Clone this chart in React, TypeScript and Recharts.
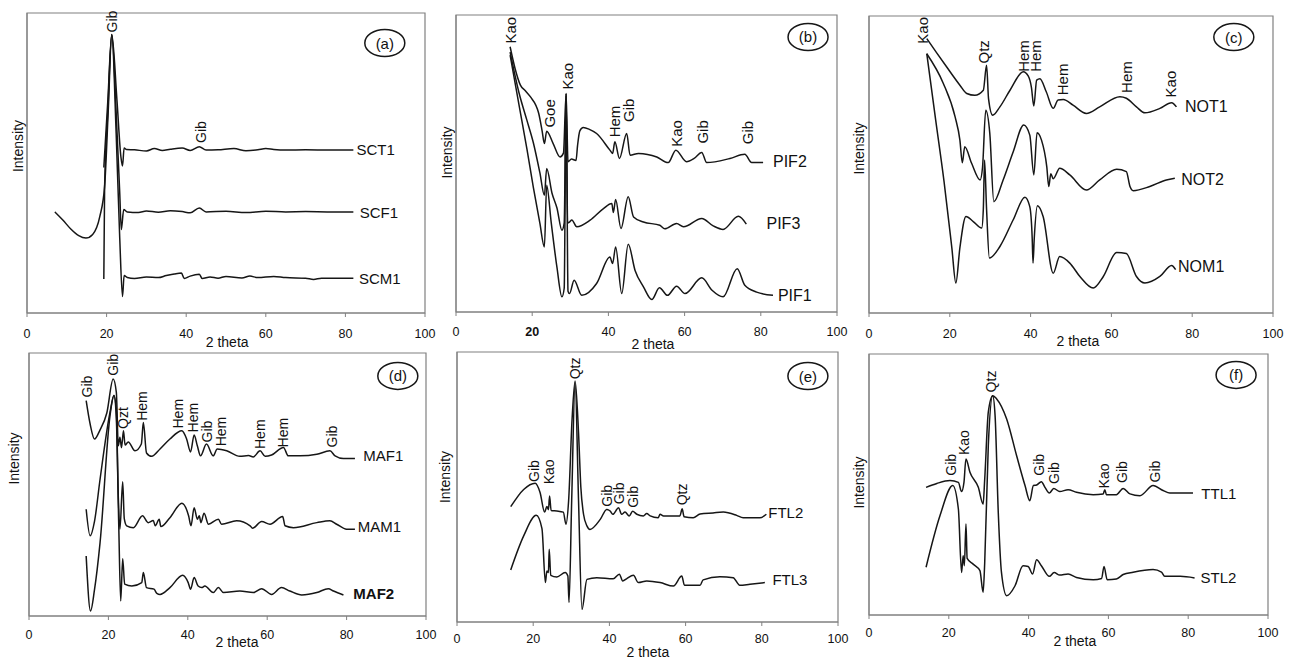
import { LineChart, Line, XAxis, YAxis, ReferenceDot, ReferenceArea, Label } from 'recharts';

const FONT = '"Liberation Sans", Arial, sans-serif';
const INK = '#161616';
const FRAME = '#808080';
const X_TICKS = [0, 20, 40, 60, 80, 100];

// ---- (a) ----
const sct1 = [[19.3, 48.5], [20.3, 70.6], [21.3, 92.8], [22.6, 71], [23.6, 52], [24.0, 49], [24.4, 55], [25.0, 54.5], [27, 54.4], [30, 54.0], [32, 54.8], [34, 54.2], [36, 54.6], [39, 55.0], [41, 54.2], [43.3, 55.4], [45, 54.3], [48, 54.4], [52, 54.8], [55, 54.1], [58, 54.4], [60, 54.8], [62, 54.5], [65, 54.3], [70, 54.4], [76, 54.3], [82, 54.3]];
const scf1 = [[7, 33.7], [9, 31], [11, 28], [13, 25.8], [14.8, 25.0], [16.5, 26.2], [18.3, 32.2], [19.5, 42.2], [20.4, 67], [21.3, 92.8], [22.5, 64], [23.3, 40], [23.7, 27.8], [24.3, 34.5], [25.2, 33.7], [28, 33.5], [30, 34], [33, 33.6], [36, 34.1], [39, 33.8], [41, 33.4], [43.3, 35], [45, 33.7], [50, 33.9], [55, 33.5], [60, 33.9], [65, 33.7], [70, 33.8], [76, 33.7], [82, 33.7]];
const scm1 = [[19.3, 11.3], [19.5, 42], [20.3, 67], [21.3, 92.8], [22.4, 60], [23.3, 25], [24.0, 5.5], [24.4, 12.5], [25.2, 11.8], [27, 11.5], [30, 12], [33, 11.8], [35, 12.5], [37, 13], [38.8, 13.3], [39.5, 11.5], [41, 12.3], [43.3, 12.9], [44, 11.5], [46, 12], [48, 11.6], [50, 12.2], [54, 11.7], [56, 12.3], [58, 11.8], [62, 12.2], [65, 11.8], [70, 11.6], [72, 11.2], [74, 11.6], [78, 11.6], [82, 11.6]];
const peaksA: [number, number, string][] = [[21.3, 93.5, 'Gib'], [43.8, 56.7, 'Gib']];

// ---- (b) ----
const pif2 = [[14.2, 89.3], [15.5, 82], [16.9, 76.4], [18.2, 74.5], [19.5, 72.5], [21.7, 66.9], [22.6, 61], [23.2, 56.7], [23.8, 60.9], [25.5, 56.7], [27.3, 52.2], [28.2, 53.5], [28.9, 73.6], [29.4, 50.6], [30.3, 51.5], [31.5, 51], [31.9, 56], [32.5, 61], [33.4, 62.1], [35, 61.5], [36.9, 60.1], [40.4, 54.5], [41.1, 53.4], [41.7, 57.3], [42.9, 51.7], [44.8, 60.1], [45.7, 52.8], [47.9, 53.4], [52.7, 52.2], [55.7, 50.3], [57.7, 54.5], [60.5, 50.6], [62.5, 51.7], [64.5, 53.7], [65.8, 50.3], [71.9, 51.7], [75.8, 53.1], [77.6, 50.3], [80.6, 50.3]];
const pif3 = [[14.2, 87.5], [16.5, 74], [18.6, 64.6], [20.3, 57], [22, 47], [23.2, 39.3], [23.8, 48.3], [25.2, 40], [26.5, 35], [27.8, 27.5], [28.4, 30], [28.9, 73], [29.3, 30], [29.8, 30.3], [30.4, 31], [31.7, 28.7], [35.2, 30.9], [38.7, 34.8], [40.9, 36.5], [41.3, 33.5], [41.9, 37.9], [43.3, 28.1], [45.2, 38.8], [46.6, 32.0], [49.2, 30.3], [53.5, 29.2], [54.8, 28.0], [57.9, 29.8], [59.7, 28.7], [64.5, 31.5], [67.5, 29], [70.1, 27.8], [74.1, 32.2], [76.2, 29.6]];
const pif1 = [[14.2, 86.5], [16.5, 70], [18.6, 55], [20.3, 42], [22, 30], [23.2, 21.9], [23.8, 42.7], [25, 30], [26.5, 15], [27.8, 5.1], [28.4, 8], [28.9, 73.6], [29.4, 7], [29.8, 6.2], [31.0, 10.7], [33.0, 5.6], [36.9, 9.6], [40.4, 18.5], [41.1, 16.3], [41.9, 21.9], [43.5, 6.2], [45.2, 22.8], [47.0, 14.0], [49.2, 8.5], [51.4, 4.2], [53.4, 8.2], [55.5, 5.6], [57.9, 8.7], [60.1, 6.2], [64.5, 11.5], [67.2, 7.3], [70.1, 5.1], [73.8, 14.6], [75.8, 9.0], [78.9, 6.7], [83.2, 5.6]];
const peaksB: [number, number, string][] = [[14.4, 90.4, 'Kao'], [24.5, 62.1, 'Goe'], [29.3, 74.9, 'Kao'], [41.5, 58.8, 'Hem'], [45.3, 64.0, 'Gib'], [57.9, 55.6, 'Kao'], [64.7, 56.7, 'Gib'], [76.4, 56.5, 'Gib']];

// ---- (c) ----
const not1 = [[14.3, 92.4], [16.8, 87.5], [19.2, 82.9], [22.5, 76.7], [24.2, 73.9], [26.2, 73.3], [28.3, 75.0], [29.1, 83.4], [29.6, 72], [30.6, 66.6], [32.4, 69.4], [34.9, 75.0], [38.2, 81.2], [39.4, 79.8], [40.2, 76], [40.8, 69.7], [41.5, 78.4], [42.3, 78.9], [43.9, 74.4], [45.6, 68.9], [46.8, 71.7], [48.1, 71.9], [50.5, 70.0], [53.8, 67.2], [57.1, 69.4], [62.1, 72.8], [63.7, 72.3], [66.2, 69.4], [68.3, 67.4], [72.0, 68.9], [74.9, 70.8], [76.1, 69.4]];
const not2 = [[14.3, 87.3], [18.4, 77.3], [21.3, 66.1], [22.5, 58.2], [23.1, 50.6], [23.7, 56], [25.4, 50.4], [27.5, 44.8], [28.1, 49], [28.9, 68.3], [29.9, 60.5], [30.9, 37.5], [33.2, 44.8], [35.7, 54.3], [38.3, 63.3], [39.8, 59.9], [40.8, 46.5], [41.6, 60.7], [42.7, 58.2], [44.0, 49.3], [44.5, 42.6], [45.0, 46.9], [45.6, 45.2], [47.2, 48.7], [49.7, 46.5], [53.8, 41.4], [57.1, 44.8], [61.3, 48.4], [63.7, 47.6], [64.6, 42.6], [65.4, 41.2], [69.5, 42.6], [73.6, 44.8], [75.7, 45.4]];
const nom1 = [[14.3, 87.3], [16.5, 65], [18.6, 44], [20.5, 22], [21.5, 10.1], [22.5, 22], [24.0, 32.5], [25.8, 30.8], [27.9, 28.6], [28.3, 35], [28.6, 51.5], [29.1, 35], [29.8, 18.5], [32.4, 22.4], [35.7, 31.4], [38.6, 39.0], [39.8, 35.8], [40.4, 25], [40.6, 16.8], [40.9, 25], [41.7, 36.1], [43.1, 32.5], [45.6, 13.4], [47.2, 19.0], [49.7, 16.8], [52.2, 12.3], [55.5, 8.4], [58.0, 12.3], [61.3, 20.4], [63.7, 20.0], [66.2, 12.3], [68.3, 10.1], [72.0, 12.3], [74.9, 16.0], [75.9, 14.6]];
const peaksC: [number, number, string][] = [[13.3, 90.7, 'Kao'], [28.4, 84.0, 'Qtz'], [38.3, 81.2, 'Hem'], [41.3, 81.2, 'Hem'], [47.9, 73.3, 'Hem'], [63.7, 74.1, 'Hem'], [74.6, 72.6, 'Kao']];

// ---- (d) ----
const maf1 = [[14.4, 81.9], [15.4, 73], [16.5, 67.3], [17.9, 70.8], [19.6, 77.2], [21.2, 90.1], [22.0, 85], [22.5, 64.7], [22.9, 68], [23.3, 64], [23.8, 70.4], [24.2, 65], [25.0, 66.2], [26.7, 62.8], [28.3, 65.4], [28.8, 73.6], [29.6, 62], [30.9, 60.7], [33.0, 63.5], [35.5, 67.3], [38.5, 70.4], [39.7, 67.3], [40.7, 62.4], [41.6, 68.8], [42.4, 64.7], [43.2, 60.9], [44.7, 65.4], [46.4, 60.9], [47.4, 63.5], [49.8, 62.8], [53.1, 60.7], [55.3, 61], [56.5, 60.5], [58.2, 62.8], [59.5, 60.7], [61.1, 61.2], [64.1, 64.1], [65.3, 60.9], [68.3, 60.9], [72.5, 61.5], [75.8, 62.8], [77.1, 60.9], [79.2, 59.9], [82.1, 59.9]];
const mam1 = [[14.4, 40.6], [15.4, 30.5], [16.5, 36], [17.9, 52.0], [20.4, 77.4], [21.4, 83.8], [22.0, 78], [22.5, 45], [22.9, 33.0], [23.6, 51.0], [24.0, 37], [24.6, 34.3], [26.3, 33.6], [28.6, 38.1], [30.0, 35.5], [31.3, 36.3], [31.8, 34.3], [32.8, 36.8], [33.2, 34.0], [35.5, 37.4], [38.5, 42.9], [40.2, 38.1], [40.8, 34.3], [41.6, 41.2], [42.4, 36.8], [42.9, 38.1], [43.3, 35.5], [44.1, 39.1], [45.2, 34.9], [47.7, 36.8], [48.5, 34.9], [52.3, 36.2], [55.7, 34.3], [56.3, 33.4], [58.6, 35.9], [60.7, 34.9], [63.9, 37.8], [64.5, 34.3], [66.6, 33.6], [72.5, 35.5], [75.8, 36.2], [77.5, 34.9], [80.0, 33.0], [82.1, 33.0]];
const maf2 = [[14.4, 22.8], [15.5, 1.9], [16.5, 10], [17.9, 27.9], [20.4, 76.1], [21.4, 83.8], [22.0, 75], [22.6, 35], [23.1, 5.7], [23.6, 21.8], [24.1, 12.1], [25.9, 11.4], [28.4, 12.7], [28.8, 16.5], [29.6, 10.8], [31.5, 10.2], [32.2, 8.6], [33.0, 8.2], [35.5, 10.8], [38.7, 15.5], [40.1, 12.7], [40.7, 10.2], [41.6, 14.6], [42.6, 11.4], [43.5, 10.8], [44.3, 11.4], [46.4, 8.9], [47.7, 10.8], [49.0, 8.9], [53.1, 9.5], [56.5, 8.9], [58.6, 10.4], [61.1, 8.2], [63.6, 10.8], [65.7, 9.5], [68.7, 8.0], [72.5, 8.9], [75.4, 10.4], [76.7, 9.5], [79.2, 8.0]];
const peaksD: [number, number, string][] = [[14.5, 83.1, 'Gib'], [21.2, 91.4, 'Gib'], [23.6, 71.1, 'Qzt'], [28.4, 74.2, 'Hem'], [37.6, 71.3, 'Hem'], [41.4, 69.8, 'Hem'], [44.9, 66.0, 'Gib'], [48.4, 64.5, 'Hem'], [58.2, 63.5, 'Hem'], [63.9, 64.1, 'Hem'], [76.2, 64.1, 'Gib']];

// ---- (e) ----
const ftl2 = [[14.1, 42.7], [17.5, 49.1], [20.5, 51.4], [21.8, 48], [23.0, 40.7], [23.6, 42.8], [24.0, 41.6], [24.3, 46.7], [24.7, 41.3], [26.2, 41.1], [27.9, 40.7], [28.6, 36.2], [29.3, 45], [30.2, 75], [31.0, 89.3], [31.9, 70], [32.5, 50], [33.2, 40], [34.1, 35.6], [34.9, 34.3], [37.6, 38], [39.3, 41.7], [40.2, 41.1], [40.9, 39.9], [42.4, 42.3], [43.2, 39.9], [44.1, 40.7], [45.2, 39.3], [46.1, 41.0], [47.2, 39.9], [48.9, 39.3], [49.8, 40.2], [50.7, 39.3], [52.8, 38.6], [53.3, 39.9], [54.2, 39.3], [58.5, 39.3], [59.1, 41.9], [59.6, 39.0], [62.0, 38.6], [63.8, 40.0], [67.2, 40.4], [69.9, 40.7], [73.4, 39.5], [75.1, 38.6], [79.5, 38.6], [81.2, 39.9]];
const ftl3 = [[14.1, 19.3], [17.5, 31.9], [20.8, 39.5], [22.3, 34.6], [23.2, 14.6], [23.6, 18.9], [24.0, 18.3], [24.2, 26.9], [24.6, 17.3], [26.2, 16.7], [28.4, 18.3], [29.1, 17.0], [29.4, 7.2], [30.1, 45], [31.0, 88.6], [31.9, 45], [32.8, 4.7], [34.1, 15.8], [36.7, 16.4], [41.0, 16.0], [42.6, 17.7], [43.5, 15.2], [44.5, 16.0], [46.3, 17.3], [47.6, 14.6], [49.8, 15.2], [53.3, 14.6], [56.8, 13.3], [59.0, 17.0], [59.7, 13.6], [63.8, 13.6], [64.6, 15.6], [69.0, 16.8], [72.5, 16.4], [74.2, 13.6], [76.9, 14.0], [80.8, 14.6]];
const peaksE: [number, number, string][] = [[20.3, 51.9, 'Gib'], [24.2, 51.0, 'Kao'], [31.0, 89.9, 'Qtz'], [39.3, 42.7, 'Gib'], [42.6, 43.6, 'Gib'], [46.3, 42.3, 'Gib'], [59.1, 43.2, 'Qtz']];

// ---- (f) ----
const ttl1 = [[14.3, 48.9], [17.0, 50.4], [20.3, 51.5], [22.4, 50.8], [23.2, 47.3], [23.8, 50.8], [24.3, 59.8], [25.3, 54.7], [27.4, 48.9], [28.6, 42.5], [29.0, 52], [29.9, 77.7], [31.0, 84.0], [32.0, 82.8], [34.5, 75.1], [37.0, 61.0], [39.1, 49.6], [40.3, 43.8], [41.2, 49.6], [42.0, 49.8], [43.2, 51.1], [44.1, 48.9], [45.2, 46.7], [46.3, 48.5], [47.8, 47.3], [49.9, 48.0], [52.0, 47.0], [56.2, 46.1], [58.7, 46.4], [59.1, 48.0], [59.5, 46.1], [62.0, 46.1], [63.7, 48.5], [65.4, 46.4], [67.9, 45.7], [71.2, 49.6], [73.7, 47.7], [75.4, 46.7], [81.2, 46.7]];
const stl2 = [[14.3, 18.3], [17.8, 38.1], [21.0, 49.6], [22.4, 40.6], [23.2, 16.3], [23.6, 22.7], [23.9, 18.9], [24.3, 34.9], [24.6, 21.7], [26.1, 19.5], [27.8, 17.0], [28.6, 8.7], [29.0, 20], [29.9, 64.9], [31.0, 84.0], [31.6, 76.4], [32.4, 39.3], [33.2, 16.3], [34.5, 7.4], [36.6, 11.2], [38.6, 18.9], [39.9, 18.6], [41.0, 15.7], [42.0, 21.2], [43.2, 18.9], [45.2, 14.8], [46.4, 16.3], [47.8, 15.3], [49.9, 15.7], [52.0, 14.4], [56.2, 13.5], [58.3, 14.0], [58.9, 18.6], [59.7, 13.5], [62.0, 13.8], [63.7, 15.5], [66.2, 16.4], [71.2, 17.4], [73.3, 16.4], [74.1, 14.8], [78.0, 14.8], [81.6, 14.2]];
const peaksF: [number, number, string][] = [[20.5, 53.4, 'Gib'], [23.9, 61.3, 'Kao'], [30.7, 85.3, 'Qtz'], [42.7, 53.4, 'Gib'], [46.3, 50.2, 'Gib'], [58.9, 48.5, 'Kao'], [63.4, 50.6, 'Gib'], [71.8, 50.8, 'Gib']];

type SeriesCfg = { name: string; pts: number[][]; at: [number, number]; bold?: boolean };
type PanelCfg = {
    tag: string;
    box: [number, number, number, number]; // left, top, right, bottom (px)
    series: SeriesCfg[];
    peaks: [number, number, string][];
    badge: [number, number];
    theta: [number, number];
    intensity: [number, number];
    tickGap: number;
    peakFont: number;
    nameFont: number;
    boldTick?: number;
};

const panels: PanelCfg[] = [
    {
        tag: '(a)', box: [27, 13, 425, 313], badge: [89.9, 90.0], theta: [50.3, 29], intensity: [-9, -17], tickGap: 12.5, peakFont: 14, nameFont: 15,
        peaks: peaksA,
        series: [
            { name: 'SCT1', pts: sct1, at: [82.8, 54.4] },
            { name: 'SCF1', pts: scf1, at: [83.6, 33.5] },
            { name: 'SCM1', pts: scm1, at: [83.4, 11.5] },
        ],
    },
    {
        tag: '(b)', box: [456, 15, 837, 312], badge: [92.4, 92.6], theta: [51.7, 32], intensity: [-9, -11], tickGap: 11, peakFont: 15, nameFont: 16, boldTick: 20,
        peaks: peaksB,
        series: [
            { name: 'PIF2', pts: pif2, at: [83.2, 50.8] },
            { name: 'PIF3', pts: pif3, at: [81.5, 29.8] },
            { name: 'PIF1', pts: pif1, at: [84.5, 5.6] },
        ],
    },
    {
        tag: '(c)', box: [869, 16, 1273, 313], badge: [90.3, 92.9], theta: [51.7, 28], intensity: [-10, -16], tickGap: 12.5, peakFont: 15, nameFont: 16,
        peaks: peaksC,
        series: [
            { name: 'NOT1', pts: not1, at: [78.2, 69.4] },
            { name: 'NOT2', pts: not2, at: [77.3, 45.1] },
            { name: 'NOM1', pts: nom1, at: [76.5, 15.7] },
        ],
    },
    {
        tag: '(d)', box: [29, 353, 426, 616], badge: [92.9, 91.3], theta: [52.4, 26], intensity: [-15, -26], tickGap: 10, peakFont: 14, nameFont: 15,
        peaks: peaksD,
        series: [
            { name: 'MAF1', pts: maf1, at: [84.2, 61.2] },
            { name: 'MAM1', pts: mam1, at: [82.8, 34.0] },
            { name: 'MAF2', pts: maf2, at: [81.7, 8.6], bold: true },
        ],
    },
    {
        tag: '(e)', box: [457, 352, 838, 622], badge: [92.1, 91.1], theta: [50.1, 30], intensity: [-12, -10], tickGap: 8.5, peakFont: 14, nameFont: 15,
        peaks: peaksE,
        series: [
            { name: 'FTL2', pts: ftl2, at: [81.7, 40.7] },
            { name: 'FTL3', pts: ftl3, at: [82.8, 15.6] },
        ],
    },
    {
        tag: '(f)', box: [869, 354, 1268, 615], badge: [92.0, 92.0], theta: [51.6, 26], intensity: [-10, -2], tickGap: 9.5, peakFont: 14, nameFont: 15,
        peaks: peaksF,
        series: [
            { name: 'TTL1', pts: ttl1, at: [83.3, 46.7] },
            { name: 'STL2', pts: stl2, at: [83.1, 14.2] },
        ],
    },
];

const ML = 45;
const MR = 12;
const MT = 6;
const MB = 46;

const toRows = (pts: number[][]) => pts.map(([x, y]) => ({ x, y }));

const Panel = ({ cfg }: { cfg: PanelCfg }) => {
    const [left, top, right, bottom] = cfg.box;
    const width = right - left + ML + MR;
    const height = bottom - top + MT + MB;

    const renderTick = (p: any) => (
        <text
            x={p.x}
            y={p.y}
            dy="0.71em"
            textAnchor="middle"
            fontSize={12.5}
            fontFamily={FONT}
            fill="#111"
            fontWeight={p.payload.value === cfg.boldTick ? 'bold' : 'normal'}
        >
            {p.payload.value}
        </text>
    );

    return (
        <div style={{ position: 'absolute', left: left - ML, top: top - MT }}>
            <LineChart width={width} height={height} margin={{ top: MT, right: MR, left: 0, bottom: 0 }}>
                <XAxis
                    type="number"
                    dataKey="x"
                    domain={[0, 100]}
                    ticks={X_TICKS}
                    interval={0}
                    allowDataOverflow
                    height={MB}
                    tickSize={4}
                    tickMargin={cfg.tickGap}
                    stroke={FRAME}
                    tick={renderTick}
                >
                    <Label
                        content={(p: any) => {
                            const vb = p.viewBox;
                            return (
                                <text
                                    x={vb.x + (vb.width * cfg.theta[0]) / 100}
                                    y={vb.y + cfg.theta[1]}
                                    textAnchor="middle"
                                    dominantBaseline="central"
                                    fontSize={14}
                                    fontFamily={FONT}
                                    fill="#111"
                                >
                                    2 theta
                                </text>
                            );
                        }}
                    />
                </XAxis>
                <YAxis
                    type="number"
                    domain={[0, 100]}
                    allowDataOverflow
                    width={ML}
                    tick={false}
                    tickLine={false}
                    stroke={FRAME}
                >
                    <Label
                        content={(p: any) => {
                            const vb = p.viewBox;
                            const cx = vb.x + vb.width + cfg.intensity[0];
                            const cy = vb.y + vb.height / 2 + cfg.intensity[1];
                            return (
                                <text
                                    x={cx}
                                    y={cy}
                                    transform={`rotate(-90 ${cx} ${cy})`}
                                    textAnchor="middle"
                                    dominantBaseline="central"
                                    fontSize={14}
                                    fontFamily={FONT}
                                    fill="#111"
                                >
                                    Intensity
                                </text>
                            );
                        }}
                    />
                </YAxis>

                <ReferenceArea x1={0} x2={100} y1={0} y2={100} fill="none" fillOpacity={0} stroke={FRAME} strokeWidth={1.2} />

                {cfg.series.map((s) => (
                    <Line
                        key={s.name}
                        data={toRows(s.pts)}
                        dataKey="y"
                        type="monotone"
                        stroke={INK}
                        strokeWidth={1.5}
                        dot={false}
                        activeDot={false}
                        isAnimationActive={false}
                    />
                ))}

                {cfg.series.map((s) => (
                    <ReferenceDot
                        key={`n-${s.name}`}
                        x={s.at[0]}
                        y={s.at[1]}
                        r={0}
                        ifOverflow="visible"
                        shape={(p: any) => (
                            <text
                                x={p.cx}
                                y={p.cy}
                                dominantBaseline="central"
                                fontSize={cfg.nameFont}
                                fontFamily={FONT}
                                fontWeight={s.bold ? 'bold' : 'normal'}
                                fill="#111"
                            >
                                {s.name}
                            </text>
                        )}
                    />
                ))}

                {cfg.peaks.map(([x, y, t], i) => (
                    <ReferenceDot
                        key={`p-${i}`}
                        x={x}
                        y={y}
                        r={0}
                        ifOverflow="visible"
                        shape={(p: any) => (
                            <text
                                x={p.cx}
                                y={p.cy}
                                transform={`rotate(-90 ${p.cx} ${p.cy})`}
                                dominantBaseline="central"
                                fontSize={cfg.peakFont}
                                fontFamily={FONT}
                                fill="#111"
                            >
                                {t}
                            </text>
                        )}
                    />
                ))}

                <ReferenceDot
                    x={cfg.badge[0]}
                    y={cfg.badge[1]}
                    r={0}
                    ifOverflow="visible"
                    shape={(p: any) => (
                        <g>
                            <ellipse cx={p.cx} cy={p.cy} rx={20} ry={13.5} fill="none" stroke={INK} strokeWidth={1.5} />
                            <text
                                x={p.cx}
                                y={p.cy}
                                textAnchor="middle"
                                dominantBaseline="central"
                                fontSize={15}
                                fontFamily={FONT}
                                fill="#111"
                            >
                                {cfg.tag}
                            </text>
                        </g>
                    )}
                />
            </LineChart>
        </div>
    );
};

const App = () => (
    <div style={{ position: 'absolute', left: 0, top: 0, width: 1291, height: 659, background: '#fff', overflow: 'hidden' }}>
        {panels.map((cfg) => (
            <Panel key={cfg.tag} cfg={cfg} />
        ))}
    </div>
);

export default App;
